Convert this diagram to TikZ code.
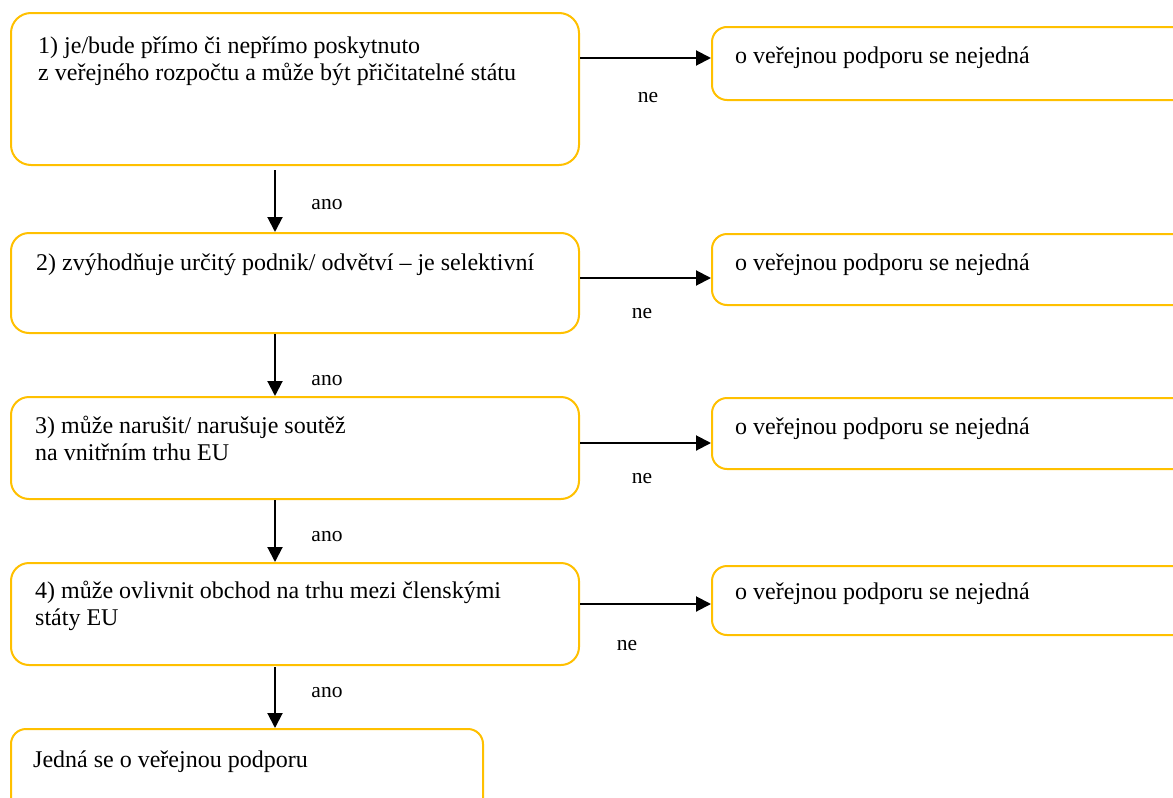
\documentclass[tikz,border=0pt]{standalone}
\usepackage{fontspec}
\setmainfont{Liberation Serif}
\usetikzlibrary{arrows.meta}
\definecolor{gold}{HTML}{FFC000}
\newcommand\firstln{\rule{0pt}{22pt}}
\tikzset{
  box/.style={draw=gold, line width=2pt, rounded corners=#1, inner sep=0pt,
    fill=white, anchor=north west},
  txt/.style={font=\fontsize{24}{27.5}\selectfont, inner sep=0pt, anchor=north west, align=left},
  lbl/.style={font=\fontsize{21.5}{24}\selectfont, inner sep=0pt, anchor=base},
  arr/.style={line width=2pt, -{Triangle[length=15pt,width=15pt]}},
}
\begin{document}
\begin{tikzpicture}[x=1pt,y=-1pt]
\useasboundingbox (0,0) rectangle (1173,798);
\clip (0,0) rectangle (1173,798);
% left column boxes
\node[box=20, minimum width=568, minimum height=152] (b1) at (10,12) {};
\node[box=18, minimum width=568, minimum height=100] (b2) at (10,232) {};
\node[box=18, minimum width=568, minimum height=102] (b3) at (10,396) {};
\node[box=18, minimum width=568, minimum height=102] (b4) at (10,562) {};
\node[box=15, minimum width=472, minimum height=90] (b5) at (10,728) {};
% right column boxes
\node[box=15, minimum width=480, minimum height=73] (r1) at (711,26) {};
\node[box=15, minimum width=480, minimum height=71] (r2) at (711,233) {};
\node[box=15, minimum width=480, minimum height=71] (r3) at (711,397) {};
\node[box=15, minimum width=480, minimum height=69] (r4) at (711,565) {};
% white cover of label frame over box 3 border
\fill[white] (291,391) rectangle (415,396.3);
% texts
\node[txt] (t1) at (38,31) {\firstln 1) je/bude přímo či nepřímo poskytnuto\\z veřejného rozpočtu a může být přičitatelné státu};
\node[txt] (t2) at (36,248) {\firstln 2) zvýhodňuje určitý podnik/ odvětví – je selektivní};
\node[txt] (t3) at (35,411) {\firstln 3) může narušit/ narušuje soutěž\\na vnitřním trhu EU};
\node[txt] (t4) at (35,576) {\firstln 4) může ovlivnit obchod na trhu mezi členskými\\státy EU};
\node[txt] (t5) at (33,745) {\firstln Jedná se o veřejnou podporu};
\node[txt] (s1) at (735,41) {\firstln o veřejnou podporu se nejedná};
\node[txt] (s2) at (735,248) {\firstln o veřejnou podporu se nejedná};
\node[txt] (s3) at (735,412) {\firstln o veřejnou podporu se nejedná};
\node[txt] (s4) at (735,577) {\firstln o veřejnou podporu se nejedná};
% horizontal arrows
\draw[arr] (b1.east |- 0,58) -- (r1.west |- 0,58);
\draw[arr] (b2.east |- 0,278) -- (r2.west |- 0,278);
\draw[arr] (b3.east |- 0,443) -- (r3.west |- 0,443);
\draw[arr] (b4.east |- 0,604) -- (r4.west |- 0,604);
% vertical arrows
\draw[arr] (275,170) coordinate (v1) -- (b2.north -| v1);
\draw[arr] (275,334) coordinate (v2) -- (b3.north -| v2);
\draw[arr] (275,500) coordinate (v3) -- (b4.north -| v3);
\draw[arr] (275,667) coordinate (v4) -- (b5.north -| v4);
% labels
\node[lbl] (n1) at (648,102) {ne};
\node[lbl] (n2) at (642,318) {ne};
\node[lbl] (n3) at (642,483) {ne};
\node[lbl] (n4) at (627,650) {ne};
\node[lbl] (a1) at (327,209) {ano};
\node[lbl] (a2) at (327,385) {ano};
\node[lbl] (a3) at (327,541) {ano};
\node[lbl] (a4) at (327,697) {ano};
\end{tikzpicture}
\end{document}
